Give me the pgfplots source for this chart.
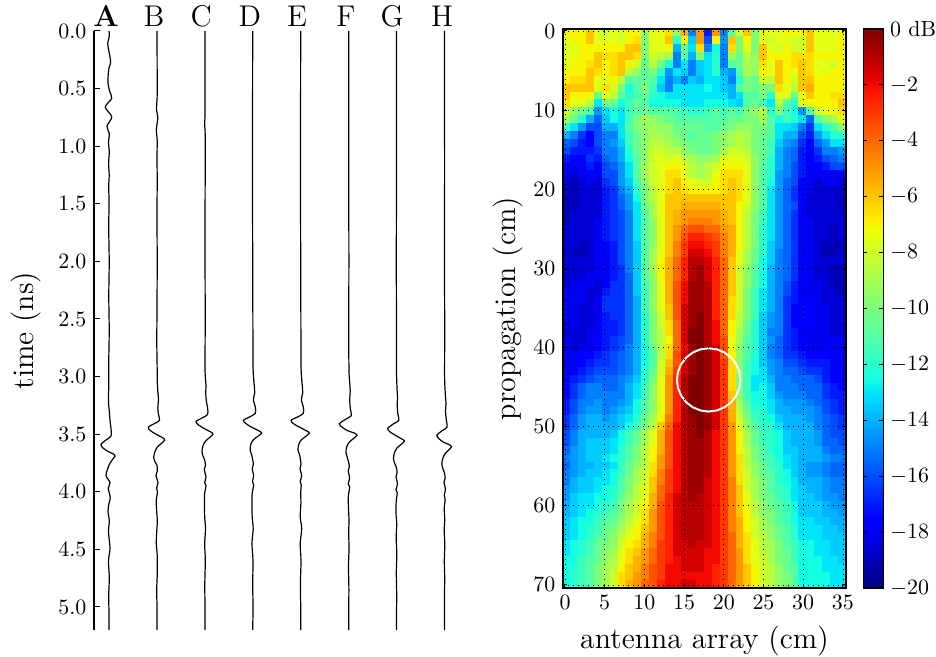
\documentclass[border=0pt,11pt]{standalone}
\usepackage{pgfplots}
\usepackage{pgfplotstable}
\pgfplotsset{compat=1.18}
\newcommand\lab{\Large}
\newcommand\tkf{\normalsize}
\pgfplotsset{colormap={mjet}{rgb(0cm)=(0,0,.5); rgb(1.1cm)=(0,0,1); rgb(1.25cm)=(0,0,1); rgb(3.4cm)=(0,.86,1); rgb(3.5cm)=(0,.9,.968); rgb(3.75cm)=(.08,1,.887); rgb(6.4cm)=(.935,1,.032); rgb(6.5cm)=(.968,.963,0); rgb(6.6cm)=(1,.926,0); rgb(8.9cm)=(1,.074,0); rgb(9.1cm)=(.909,0,0); rgb(10cm)=(.5,0,0)},
  trace/.style={black, line width=0.6pt, smooth, no marks}}
% attenuation below the peak, dB; 71 rows (propagation) x 36 columns (array)
\pgfplotstableread[header=false]{
7 7 7 6 7.5 8  7.5 8 7 7 9.5 7.5  7.5 6.5 9.5 5.5 15 5  17 5 15 11 8 6  10 7.5 7.5 7.5 7 7  7 6 7.5 7.5 7.5 7
7.5 7 7 6 7.5 7.5  7.5 8 7 6.5 10 7.5  7.5 6 12 7 13.5 5  16 7 14.5 6 10 7  10 7.5 8 7.5 7.5 8  8 6 7.5 7.5 7.5 7
8 7.5 7 7 7 7  7 7 6 6 10 7.5  7.5 7 14 10.5 13 6.5  15 12.5 15 6.5 10 7.5  10 6 7.5 8 7 8  8 6 7.5 7.5 7.5 7
7.5 7.5 7 7 6 6.5  6.5 6 6 6.5 10 8  8.5 9 15 11 14 10  13 12 15 9 10.5 8.5  9.5 6 7 7 7 6.5  6.5 6.5 7 7 7 7
7.5 7 7 6.5 6 7  6.5 6 7 8 10.5 8.5  10 12.5 15 13 15 13.5  13 12 15 11 10.5 9  9.5 6.5 7.5 6 7 6.5  6 6.5 7.5 7.5 8 7
7 7 7 6 6.5 7  6.5 6 8.5 9.5 11 10  12 14.5 13 13.5 15 13.5  13 12 14 14.5 11 9  9.5 7 7.5 6 7 7.5  6 6.5 7.5 7.5 7 7
7 6.5 6.5 6 7.5 7.5  7 8.5 11 11 10.5 11  13 15 14 15 13.5 14  13 13 13.5 15 12 10  10.5 8 8.5 6 7 8  6 6 7 7 7 7
6 6 6 6 7.5 6.5  8 10 12.5 11 10 11.5  13.5 15 13 13 13 13  12.5 13 13.5 14 11 10  10.5 10 10 6.5 7.5 8.5  6 5.5 7 7 7 7
6 7 7 7 10.5 7.5  8.5 11 12 11.5 10.5 12  12.5 13 13 13 13 13  13 13 13 14 13 11  11 10 12 7.5 7.5 10.5  7.5 6 7 7 6.5 6.5
6.5 7.5 7.5 8.5 13 10  10.5 12.5 11.5 10.5 11 12.5  12.5 12.5 12.5 13 13 13  12.5 12.5 12.5 13 13.5 11  10.5 11.5 13 8.5 11 12  7.5 7 7 7 7 6
8 9.5 10.5 11 14.5 13  12.5 13 11.5 11 10.5 11  11 11 11.5 11.5 12 12  11.5 11 11.5 11 11.5 10  9.5 8.5 12 10 11.5 12.5  14.5 11 8 7.5 7 6.5
9 10.5 12 14 15.5 13.5  12.5 13 11.5 10 9 9.5  10 10.5 11 11 11 11  11 11 11 10.5 10.5 10  10 9 11 12.5 11.5 12  13 15.5 11 9.5 9 7.5
11.5 13 14.5 16 16 14  14 13 11 10 9.5 9  9.5 9.5 10.5 10.5 10.5 10.5  11 11 10.5 10 9.5 9.5  10 10 11 13 13 13.5  15 16.5 13 12 11 9.5
14 15 16.5 17.5 16 15  15 13 11.5 10.5 9.5 9  9 9.5 10 10.5 11 10.5  10.5 10 9.5 9 8.5 9  10 10.5 11 13 14 14  16 17 14.5 13 12 12
15.5 16 17 17.5 16 15  14.5 13.5 11.5 10.5 9.5 8.5  8.5 9 9.5 10 10.5 10.5  10.5 10 9.5 9 8.5 9  10 10.5 11.5 13.5 14.5 15  16.5 17.5 15.5 14.5 13 13
16 17 17 17 16.5 15  15 14 12 10.5 9.5 8  8 8.5 8.5 9.5 10 10.5  10.5 10 9 8 8 8.5  10 10.5 11.5 14 15 15.5  17 17.5 16.5 15 15 14.5
17 17.5 17.5 16.5 17 15.5  15 14 12.5 11 9.5 8  7.5 8 7.5 8.5 9 9.5  9.5 9 7.5 7.5 7.5 8  9.5 10.5 12 14 15 15.5  17 17.5 17 16 15.5 15
17.5 18 18 17 17.5 16  15.5 14.5 13 11 9 8  7.5 7 7 7.5 8.5 9  8.5 8 7 7 7 7.5  9.5 11 12 14 15 16  17 17.5 17.5 17 16 16
18 18.5 18 17.5 18 16  16 14.5 13 11 9 8  7.5 6.5 6.5 7.5 8.5 9  8.5 7.5 6.5 6.5 6.5 7.5  9.5 11 12 14.5 15 16  17 18 18 18 18 17.5
18.5 19 18.5 18 18.5 16.5  16 14.5 13.5 11.5 9.5 8  7.5 6.5 6 7 7.5 8  8 7 6.5 6 6.5 7.5  9.5 11 12.5 14.5 15.5 16  17.5 18 18.5 18 18 18.5
18.5 19 18.5 18.5 18.5 17  16.5 15 14 12 10 8.5  7.5 6.5 6 6.5 7 7  7 7 6.5 6 6.5 7.5  9.5 11 13 14.5 15.5 16.5  17.5 18 18.5 18.5 18.5 18.5
19 19 18.5 18.5 18.5 17  16.5 15.5 14.5 12.5 10 8.5  7.5 6 6 6 6 6  6 6 6 6 6.5 7.5  9.5 11 13 14.5 15.5 16.5  17.5 18.5 18.5 18.5 18.5 19
19 19 18.5 18.5 18.5 17  16.5 15.5 14.5 13 10.5 9  7.5 6 6 5.5 5.5 5.5  5.5 5.5 6 6 7 8  9.5 11 13 14.5 15.5 16  17.5 18.5 18.5 18.5 18.5 19
19 18.5 18.5 18.5 18.5 17  16.5 16 15 13 11 9  7.5 6 5.5 5 5 5  5 5 5.5 6 7 8.5  10 11.5 13 14.5 15.5 16.5  17.5 18.5 18.5 18.5 18.5 18.5
19 18.5 18.5 18.5 18 17  16.5 16 15 13 11 9.5  7.5 6 5.5 5 4.5 4.5  4.5 5 5.5 6 7 8.5  10 11.5 13 14.5 15.5 16.5  17.5 18 18.5 18.5 18.5 18.5
18.5 18.5 18.5 18.5 18 17  16.5 16 15 13 11 9.5  7.5 6 5 4 3.5 3.5  4 4 5 5.5 7 8.5  10 12 13 14.5 15.5 16.5  17.5 18 18.5 18.5 19 18.5
18.5 18.5 18.5 18.5 18 17  16.5 16 15 13 11 9.5  7.5 6 5 3.5 2.5 2.5  3 3.5 4.5 5.5 7 8.5  10 12 13 14.5 15.5 16.5  17.5 18 18.5 18.5 19 18.5
18.5 18.5 19 18.5 18 17.5  17 16 15 13.5 11 9.5  7.5 6 4.5 3 2 2  2.5 3 4.5 5.5 7 8.5  10 12 13.5 14.5 15.5 16.5  18 18 18.5 19 19 19
18.5 19 19 18.5 18 17.5  17 16 15 13.5 11 9  7.5 6 4.5 3 1.5 1.5  2 3 4.5 5.5 7.5 9  10.5 12 13.5 15 15.5 16.5  18 18 18.5 19 19 18.5
18.5 18.5 18.5 18.5 18 17.5  17 16 15 13.5 11 9  7 5.5 4 2.5 1 1  1.5 2.5 4 6 7.5 9  10.5 12.5 13.5 15 15.5 16.5  17.5 18 18.5 18.5 18.5 18.5
18.5 18.5 18.5 18.5 18 17.5  17 16.5 15 13.5 11 9  7 5.5 4 2.5 1 0.5  1.5 2.5 4 6 8 9.5  11 12.5 14 15 15.5 16.5  17.5 18 18.5 18.5 19 19
18.5 18.5 18.5 18 18 17.5  17 16.5 15.5 13.5 11 9.5  7 5.5 4 2.5 1 0.5  1.5 2.5 4 6 8 9.5  11 12.5 14 15 15.5 16.5  17.5 18 18.5 18.5 19 19
18.5 18 18 18 18.5 17.5  16.5 16.5 15.5 13.5 11.5 9.5  7.5 5.5 3.5 2 0.5 0.5  1 2.5 4 6 8 9.5  11 12.5 14 15 16 17  17.5 18 18 18.5 19 19
18 18 18 18.5 18.5 17  16.5 16.5 15.5 13.5 11.5 9.5  7.5 5.5 3.5 2 0.5 0.5  1 2.5 4 6 8 10  11.5 13 14 15 16 17  17.5 18 18 18.5 18.5 19
18 18 18 18.5 18 16.5  16.5 16.5 15.5 14 11.5 9.5  7.5 5.5 3.5 2 0.5 0.5  1 2.5 4 6.5 8 10  11.5 13 14 15 16.5 17  17.5 17.5 18 18.5 18.5 18.5
18 18 18.5 18.5 18 16.5  16.5 16.5 15.5 14 11.5 9.5  7.5 6 3.5 1.5 0.5 0.5  1 2.5 4 6.5 8 10  11.5 13 14 15 16.5 17.5  17.5 17.5 18 18 18.5 18.5
18 18 18.5 18.5 18 17  16.5 16.5 15.5 14 12 10  8 6 3.5 1.5 0.5 0  1 2.5 4 6.5 8.5 10  11.5 13.5 14.5 15 16.5 17.5  17.5 17.5 18 18 18.5 18.5
18.5 18 18.5 18.5 18 17  17 16.5 15.5 14 12 10  8 6.5 4 1.5 0.5 0  1 2 4 7 8.5 10.5  12 13.5 14.5 15 16.5 17.5  17.5 17.5 18 18 18.5 18.5
18.5 18.5 18.5 18 18 17  17 16.5 15.5 14 12 10  8.5 6.5 4 1.5 0 0  1 2 4 7 9 10.5  12 13.5 15 15 16.5 17  17.5 18 18 18 18.5 18.5
18 18.5 18.5 18 17.5 17  16.5 16 15.5 14 12 10  8.5 7 4 1.5 0 0  1 2 3.5 7.5 9 11  12 13.5 14.5 15.5 16.5 17  17.5 18 18 18 18 18
18 18.5 18 18 17.5 17  16.5 16 15 14 12.5 10.5  8.5 6.5 4 2 0.5 0  0.5 1.5 3.5 7.5 9.5 11  12 13.5 15 15.5 16.5 17  17.5 18 18 17.5 18 18
18 18 17.5 17.5 17 16.5  16 15.5 15 14 12.5 11  8.5 6.5 3.5 1.5 0.5 0  0.5 1.5 3.5 7 9.5 11  12 13.5 15 15.5 16.5 16.5  17 17.5 17.5 17.5 18 18
18 18 17.5 17 16.5 16.5  16 15.5 15 14 12.5 11  8 6 3.5 1.5 0.5 0  0.5 1.5 3 6.5 9.5 11.5  12.5 13.5 14.5 15 16 16  16.5 17 17 17 17.5 18
18 17.5 17 16.5 16 16  16 15.5 15 14 12 10.5  8 5.5 3 1.5 0.5 0  0.5 1.5 3 6.5 9.5 11.5  12.5 13 14.5 15 15.5 15.5  16 16.5 16.5 17 17.5 18
18 17 16.5 16 15.5 15.5  15.5 15 14.5 13.5 12 10  7.5 5 2.5 1 0 0  0.5 1.5 3 6.5 10 11.5  13 13 14 15 15 15.5  15.5 15.5 16 17 17.5 17.5
17.5 16.5 15.5 15 15 15.5  15.5 15 14 13 11.5 9.5  7.5 5 2.5 1 0 0  0.5 1.5 3 6.5 10 11.5  13 12.5 13.5 15 15 15  15.5 15.5 15.5 16.5 17 17.5
17.5 16.5 15.5 15 15 15  15 15 14 13 11.5 9.5  7.5 5 2.5 1 0 0  0.5 1.5 3 6 9.5 11.5  12.5 12.5 13.5 14.5 15 15  15 15.5 15.5 16.5 17 17
17 16 15 15 14.5 15  15 14.5 14 12.5 11 9.5  7.5 5 2.5 1 0 0  0.5 1.5 3 5.5 9 11  12.5 12.5 13 14 14.5 14.5  14.5 15 15.5 16 16.5 17
17 16 15 14.5 14.5 15  14.5 14 13.5 12.5 11 9.5  7.5 5 2.5 1 0 0  0.5 1.5 3 5.5 8.5 10.5  12 12 13 14 14 14.5  14.5 14.5 15 16 16.5 17
16.5 15.5 14.5 14 14 14.5  14 13.5 13 12 10.5 9  7 4.5 2.5 1 0.5 0  0.5 1.5 3 5.5 8 10  11.5 12 12.5 13.5 14 14  14 14.5 15 15.5 16 16.5
16.5 15.5 14.5 14 14 14  14 13.5 12.5 11.5 10 8.5  6 4 2 1 0.5 0  0.5 1.5 3 5 7.5 9.5  11 12 12 13 14 14  14 14 15 15.5 16 16.5
16 15 14 14 14 14  13.5 12.5 11.5 10.5 9 7.5  5.5 3.5 2 1 0.5 0  1 2 3 5 7 9  10.5 11.5 12 12.5 13.5 14  14 14 14.5 15.5 16 16
16 15 14 13.5 13.5 13.5  13 12.5 11.5 10.5 9 7.5  5.5 3.5 2 1 0.5 0.5  1 2 3 5 7 9  10.5 11.5 12 12.5 13.5 14  14 14 14.5 15.5 15.5 16
15.5 14.5 14 13.5 13.5 13.5  13 12 11 10 8.5 7  5.5 3.5 2 1 0.5 0.5  1 2 3 5 7 8.5  10 11 12 12.5 13.5 13.5  14 14 14 15 15.5 15.5
15 14.5 14 13.5 13.5 13  12.5 12 11 10 8.5 7  5 3.5 2 1 0.5 0.5  1 2 3 5 6.5 8.5  10 11 11.5 12.5 13 13.5  14 14 14 14.5 15 15
15.5 14.5 14 14 13.5 13.5  13 11.5 10.5 9.5 8.5 6.5  5 3.5 2 1 0.5 0.5  1 2 3 5 6.5 8.5  9.5 10.5 11.5 12 13 13.5  14 14.5 14.5 15 15.5 15.5
15 14.5 14 13.5 13.5 13  12.5 11.5 10.5 9 8 6.5  4.5 3 2 1 0.5 0.5  1 2 3 5 6.5 8  9.5 10.5 11 12 12.5 13.5  14 14.5 14.5 15 15.5 15.5
15 14 13.5 13.5 13 13  12.5 11 10 9 8 6  4.5 3 2 1 0.5 0.5  1.5 2 3 4.5 6.5 8  9 10 11 12 12.5 13  14 14 14 14.5 15 15
14.5 14 13.5 13.5 13 12.5  12 11 10 8.5 7.5 6  4 3 2 1 0.5 0.5  1.5 2 3 4.5 6 8  9 10 11 11.5 12 13  13.5 14 14 14.5 15 15
14.5 13.5 13 13 12.5 12.5  12 10.5 9.5 8.5 7.5 5.5  4 2.5 1.5 1 0.5 1  1.5 2 3 4.5 6 7.5  9 10 10.5 11.5 12 13  13.5 13.5 14 14.5 14.5 15
14 13.5 13 13 12.5 12  11.5 10 9 8 7 5.5  3.5 2.5 1.5 1 1 1  1.5 2 3 4.5 6 7.5  8.5 9.5 10.5 11 11.5 12.5  13.5 13.5 13.5 14 14.5 14.5
14 13.5 13 12.5 12 11.5  11 10 9 8 6.5 5  3.5 2.5 1.5 1 1 1  1.5 2 3 4.5 6 7  8.5 9.5 10 11 11.5 12.5  13.5 13.5 13.5 14 14 14.5
13.5 13 12.5 12.5 11.5 11  10.5 9.5 8.5 7.5 6.5 5  3.5 2.5 1.5 1 1 1  1.5 2 3 4.5 5.5 7  8 9 10 11 11.5 12.5  13 13 13.5 13.5 14 14
13.5 13 12.5 12 11.5 10.5  10 9 8 7 6 5  3.5 2.5 1.5 1 1 1  1.5 2 3 4.5 5.5 7  8 9 9.5 10.5 11 12  13 13 13 13.5 13.5 14
13.5 13 12.5 12 11 10.5  9.5 8.5 7.5 7 5.5 4.5  3.5 2.5 1.5 1 1 1  1.5 2 3 4 5.5 6.5  8 8.5 9.5 10.5 11 12  13 13 13 13.5 13.5 13.5
13 12.5 12 11.5 10.5 10  9.5 8 7 6.5 5.5 4.5  3 2.5 1.5 1.5 1 1.5  1.5 2 3 4 5.5 6.5  7.5 8.5 9 10 11 11.5  12.5 12.5 13 13 13.5 13.5
13 12.5 12 11.5 10.5 9.5  9 7.5 6.5 6 5 4  3 2.5 1.5 1.5 1.5 1.5  2 2 3 4 5 6.5  7.5 8.5 9 10 10.5 11.5  12.5 12.5 13 13 13.5 13.5
12.5 12.5 11.5 11 10.5 9.5  8.5 7.5 6.5 5.5 5 4  3 2.5 2 1.5 1.5 1.5  2 2 3 4 5 6.5  7.5 8 9 10 10.5 11.5  12.5 12.5 12.5 13 13 13.5
12.5 12 11.5 11 10 9  8.5 7 6 5.5 4.5 3.5  3 2 2 1.5 1.5 1.5  2 2.5 3 4 5 6  7 8 8.5 9.5 10.5 11  12.5 12.5 12.5 13 13 13
12.5 12 11.5 11 10 9  8 6.5 6 5 4.5 3.5  3 2 2 2 2 2  2 2.5 3 4 5 6  7 8 8.5 9.5 10 11  12.5 12.5 12.5 12.5 13 13
12.5 12 11.5 11 10 9  8 6.5 5.5 5 4 3.5  2.5 2 2 1.5 1.5 2  2 2.5 3 4 5 6  7 8 8.5 9.5 10 11  12.5 12.5 12.5 12.5 13 13
}\heat
\def\heatcoords{}
\pgfplotsforeachungrouped \rr in {0,...,70}{%
  \pgfmathsetmacro\yy{0.2475+0.995*\rr}%
  \pgfplotsforeachungrouped \cc in {0,...,35}{%
    \pgfmathsetmacro\xx{0.245+0.9903*\cc}%
    \pgfplotstablegetelem{\rr}{[index]\cc}\of\heat
    \xdef\heatcoords{\heatcoords(\xx,\yy)[-\pgfplotsretval] }%
  }%
}
% traces: t in ns, d = deflection from the trace's centre line
\pgfplotstableread{
t d
0 0
0.05 0.3
0.107 -1.3
0.18 0
0.27 1.7
0.32 0
0.38 -0.8
0.45 -1
0.52 0.5
0.585 2.7
0.66 -3.7
0.745 2.7
0.826 -2
0.89 0.3
0.97 -0.5
1.05 0.3
1.15 -0.4
1.25 0.2
1.35 -0.3
1.5 0.1
1.7 -0.3
2 0.2
2.3 -0.2
2.6 0.2
2.9 -0.3
3.1 -0.3
3.21 -0.6
3.3 0.3
3.38 1
3.48 2.3
3.52 1.8
3.55 -3
3.59 -8
3.62 -6
3.65 -1
3.67 4
3.69 6
3.72 3.5
3.76 0.5
3.8 -1.3
3.86 -3
3.92 1
3.97 -0.7
4.05 1.3
4.1 0
4.17 -1
4.25 0.3
4.35 -0.5
4.49 1
4.6 -0.5
4.75 0.3
4.9 -0.3
5.05 0
5.2 0
}\tA
\pgfplotstableread{
t d
0 0
0.5 0.2
0.6 0
0.68 -0.5
0.75 0.8
0.8 0.2
0.86 -0.7
0.95 0.2
1.1 0
1.3 0.2
1.6 0
2 0.2
2.4 0
2.7 -0.2
2.95 0.2
3.05 0.3
3.13 0.8
3.2 1.5
3.27 0.8
3.33 1.5
3.38 2.5
3.41 -3
3.44 -8.7
3.47 -6.5
3.5 -1
3.53 5.5
3.55 7.7
3.58 4.5
3.61 0.5
3.65 -2
3.7 -3.3
3.74 -2
3.77 0
3.82 0.3
3.86 -1
3.92 1
3.97 -0.5
4 0.5
4.07 -0.7
4.15 -0.5
4.25 0.3
4.35 -0.3
4.45 -0.7
4.55 0.2
4.7 0.3
4.85 -0.3
5 0
5.2 0
}\tB
\pgfplotstableread{
t d
0 0
0.7 0
0.8 -0.4
0.9 0.2
1.2 0.2
1.8 0
2.5 0.2
2.9 0
3 0.3
3.08 1
3.15 0.7
3.22 1.5
3.28 2.7
3.33 2.5
3.36 -3
3.39 -9
3.42 -6.5
3.45 -1
3.48 5.5
3.5 8
3.53 4.5
3.56 0.5
3.6 -2
3.65 -3
3.69 -2
3.72 -0.5
3.77 0.5
3.81 -0.7
3.87 1
3.92 -0.3
3.95 1
4.02 -0.5
4.12 -0.5
4.22 -0.3
4.32 0.5
4.45 -0.3
4.6 0.3
4.8 -0.2
5 0
5.2 0
}\tC
\pgfplotstableread{
t d
0 0
1.2 -0.2
2 0
2.6 0.2
2.9 0.3
3 0.8
3.07 1.5
3.14 2
3.2 0.7
3.27 2.7
3.32 2.5
3.35 -3
3.38 -9.3
3.41 -6.5
3.44 -1
3.47 6
3.49 9
3.52 5
3.55 0.5
3.59 -2
3.64 -2.5
3.68 -1
3.71 -0.3
3.76 0.7
3.8 -0.5
3.86 1
3.91 -0.3
3.94 1
4.01 -0.5
4.1 -0.7
4.22 -0.5
4.32 0.5
4.45 -0.7
4.6 0.3
4.8 0
5 0.3
5.2 0
}\tD
\pgfplotstableread{
t d
0 0
1.2 -0.2
2 0
2.6 0.2
2.9 0.3
3 0.8
3.07 1.5
3.14 2
3.2 0.7
3.27 2.7
3.32 2.5
3.35 -3
3.38 -9.7
3.41 -7
3.44 -1
3.47 5.5
3.49 8.7
3.52 5
3.55 0.5
3.59 -2
3.64 -2.7
3.68 -1
3.71 -0.5
3.76 0.3
3.8 -0.7
3.86 1
3.91 -0.5
3.94 0.5
4.01 0
4.1 0.2
4.22 -0.5
4.32 1
4.45 -0.5
4.6 0.3
4.8 -0.3
5 0
5.2 0
}\tE
\pgfplotstableread{
t d
0 0
1.2 0
2 0.2
2.6 0
2.95 0.3
3.05 1
3.13 1.5
3.2 1
3.27 1.5
3.34 2.5
3.37 -3
3.41 -9.3
3.44 -6.5
3.47 -1
3.49 5.5
3.51 8.3
3.54 4.5
3.57 0.5
3.61 -2
3.66 -2.7
3.7 -1.5
3.73 -0.5
3.78 0.7
3.82 -0.5
3.88 1
3.93 -0.5
3.96 1
4.03 -0.3
4.13 -0.3
4.25 0.3
4.35 0
4.5 0.3
4.65 -0.2
4.85 0.2
5 0
5.2 0
}\tF
\pgfplotstableread{
t d
0 0
1.2 0
2 -0.2
2.6 0
2.95 0
3.1 0.5
3.18 1
3.25 0.7
3.32 1.3
3.38 2.3
3.41 -3
3.45 -8.7
3.48 -6.5
3.51 -1
3.54 5
3.56 8
3.59 4.5
3.62 0.5
3.66 -2
3.71 -3
3.75 -2
3.78 -0.5
3.83 0.7
3.87 -0.5
3.93 1
3.98 -0.5
4.01 0.7
4.08 -0.3
4.18 -0.5
4.28 0.2
4.4 -0.3
4.55 0.3
4.7 -0.2
4.9 0.2
5.05 0
5.2 0
}\tG
\pgfplotstableread{
t d
0 0
1.2 0.1
2 0
2.6 0.2
3 0.1
3.15 0.8
3.23 1.5
3.3 1
3.37 1.7
3.44 2.5
3.47 -2.5
3.51 -7.7
3.54 -5.5
3.57 -1
3.59 4.5
3.61 7
3.64 4
3.67 0.5
3.71 -1.7
3.76 -2.7
3.8 -1.5
3.83 -0.3
3.88 0.7
3.92 -0.5
3.98 1
4.03 -0.3
4.07 0.7
4.14 -0.3
4.24 0.2
4.34 -0.3
4.46 0.3
4.6 -0.2
4.75 0.2
4.95 -0.1
5.2 0
}\tH
\def\heatplot#1{\addplot[matrix plot*, mesh/cols=36, point meta=explicit] coordinates {#1};}
\begin{document}
\begin{tikzpicture}
\useasboundingbox (0,0) rectangle (468pt,328.5pt);
\begin{axis}[
  at={(47pt,13.5pt)}, anchor=south west, scale only axis, width=183pt, height=299.5pt,
  xmin=0, xmax=366, ymin=0, ymax=5.2, y dir=reverse, clip=false,
  axis x line=none, axis y line*=left,
  axis line style={-, line width=1pt, black},
  ytick={0,0.5,...,5.0}, tick align=inside, major tick length=3pt,
  ytick style={black, line width=0.5pt},
  ticklabel style={font=\tkf},
  yticklabel style={/pgf/number format/.cd, fixed, fixed zerofill, precision=1},
  ylabel={\lab time (ns)},
  ylabel style={at={(axis description cs:-0.185,0.5)}, anchor=center, scale=1.04},
]
\addplot[trace] table[x expr=\thisrow{d}+15, y=t]{\tA};
\addplot[trace] table[x expr=\thisrow{d}+63, y=t]{\tB};
\addplot[trace] table[x expr=\thisrow{d}+111, y=t]{\tC};
\addplot[trace] table[x expr=\thisrow{d}+158.7, y=t]{\tD};
\addplot[trace] table[x expr=\thisrow{d}+206.7, y=t]{\tE};
\addplot[trace] table[x expr=\thisrow{d}+254.7, y=t]{\tF};
\addplot[trace] table[x expr=\thisrow{d}+302.5, y=t]{\tG};
\addplot[trace] table[x expr=\thisrow{d}+350.5, y=t]{\tH};
\node[anchor=base, scale=1.04] at (axis cs:12,-0.037) {\lab\bfseries A};
\node[anchor=base, scale=1.04] at (axis cs:60,-0.037) {\lab B};
\node[anchor=base, scale=1.04] at (axis cs:107.3,-0.037) {\lab C};
\node[anchor=base, scale=1.04] at (axis cs:155.7,-0.037) {\lab D};
\node[anchor=base, scale=1.04] at (axis cs:203,-0.037) {\lab E};
\node[anchor=base, scale=1.04] at (axis cs:252,-0.037) {\lab F};
\node[anchor=base, scale=1.04] at (axis cs:298,-0.037) {\lab G};
\node[anchor=base, scale=1.04] at (axis cs:348,-0.037) {\lab H};
\end{axis}
\begin{axis}[
  at={(281.5pt,34.5pt)}, anchor=south west, scale only axis, width=141.5pt, height=279.5pt,
  xmin=-0.25, xmax=35.4, ymin=-0.25, ymax=70.4, y dir=reverse,
  axis on top, colormap name=mjet, point meta min=-20, point meta max=0,
  xtick={0,5,...,35}, ytick={0,10,...,70},
  tick align=inside, major tick length=2pt, ticks=both,
  tick style={black, line width=0.5pt},
  axis line style={black, line width=0.6pt},
  ticklabel style={font=\tkf},
  grid=major, grid style={black, line width=0.3pt, dash pattern=on 0.5pt off 2pt},
  xlabel={\lab antenna array (cm)},
  xlabel style={at={(axis description cs:0.5,-0.095)}, anchor=center, scale=1.04},
  ylabel={\lab propagation (cm)},
  ylabel style={at={(axis description cs:-0.194,0.5)}, anchor=center, scale=1.04},
  colorbar,
  colorbar style={
    at={(parent axis.north east)}, anchor=north west,
    /tikz/xshift=0.2pt,
    width=10pt, ytick={-20,-18,...,0},
    yticklabels={$-20$,$-18$,$-16$,$-14$,$-12$,$-10$,$-8$,$-6$,$-4$,$-2$,0 dB},
    tick align=inside, major tick length=2pt, ticks=both,
    tick style={black, line width=0.5pt},
    axis line style={black, line width=0.6pt},
    ticklabel style={font=\tkf},
    yticklabel style={xshift=-0.5pt},
  },
]
\expandafter\heatplot\expandafter{\heatcoords}
\addplot[white, line width=1pt, line join=round] coordinates {(22.1,44.1)(21.96,45.14)(21.56,46.1)(20.93,46.93)(20.1,47.56)(19.14,47.96)(18.1,48.1)(17.06,47.96)(16.1,47.56)(15.27,46.93)(14.64,46.1)(14.24,45.14)(14.1,44.1)(14.24,43.06)(14.64,42.1)(15.27,41.27)(16.1,40.64)(17.06,40.24)(18.1,40.1)(19.14,40.24)(20.1,40.64)(20.93,41.27)(21.56,42.1)(21.96,43.06)(22.1,44.1)};
\end{axis}
\end{tikzpicture}
\end{document}
